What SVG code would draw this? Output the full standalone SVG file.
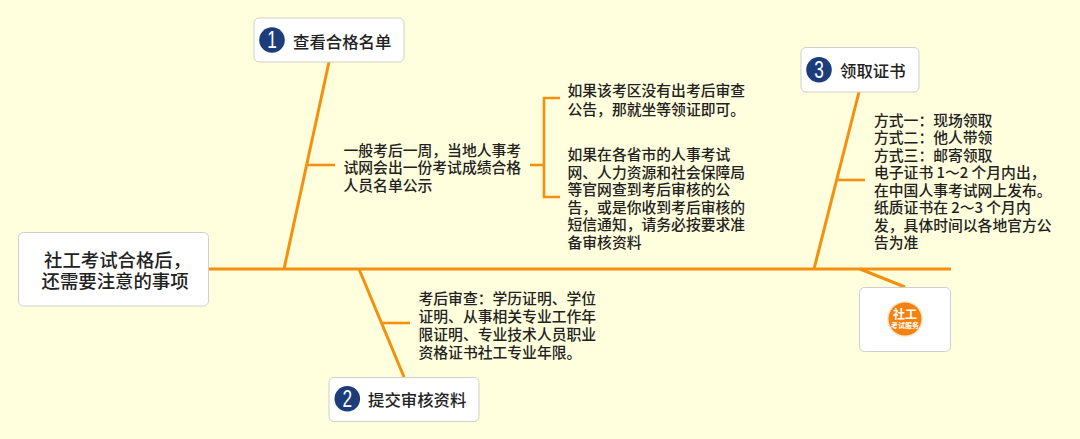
<svg xmlns="http://www.w3.org/2000/svg" width="1080" height="439" viewBox="0 0 1080 439">
<style>
text{font-family:"Noto Sans CJK SC","Noto Sans",sans-serif;fill:#222;font-weight:500}
.box{fill:#fff;stroke:#cfcfcf;stroke-width:1}
.b{font-size:14.8px}
.t{font-size:16.4px}
.r{font-size:18.4px}
.c{fill:#1c3d7a}
.n{fill:#fff;font-size:23px;font-family:"Liberation Sans",sans-serif;text-anchor:middle}
#connectors path{fill:none;stroke:#f5900f;stroke-linecap:butt}
.w3{stroke-width:3}
.w2{stroke-width:2.6}
</style>
<rect width="1080" height="439" fill="#fffedd"/>
<g id="connectors">
<path class="w3" d="M208 269H951"/>
<path class="w3" d="M329 62L284 269"/>
<path class="w3" d="M859 92L814 269"/>
<path class="w3" d="M359 269L404 377"/>
<path class="w3" d="M860 269L905 287"/>
<path class="w2" d="M306 165H335"/>
<path class="w2" d="M530 165H544"/>
<path class="w2" d="M560 98H544V197H560"/>
<path class="w2" d="M838 180H865"/>
<path class="w2" d="M382 323H410"/>
</g>
<g id="root">
<rect class="box" x="18.500" y="232.500" width="190" height="73.500" rx="5"/>
<text class="r" x="44" y="267">社工考试合格后，</text>
<text class="r" x="41.500" y="288">还需要注意的事项</text>
</g>
<g id="node1">
<rect class="box" x="254" y="18" width="150" height="44" rx="5"/>
<circle class="c" cx="272" cy="40" r="12.800"/>
<text class="n" transform="translate(272 48) scale(.75 1)">1</text>
<text class="t" x="293" y="47.700">查看合格名单</text>
</g>
<g id="node2">
<rect class="box" x="329" y="377.500" width="150" height="44" rx="5"/>
<circle class="c" cx="347.300" cy="398.700" r="12.800"/>
<text class="n" transform="translate(347.300 406.700) scale(.75 1)">2</text>
<text class="t" x="368" y="406">提交审核资料</text>
</g>
<g id="node3">
<rect class="box" x="801" y="47.500" width="118" height="44.500" rx="5"/>
<circle class="c" cx="819" cy="69.700" r="12.800"/>
<text class="n" transform="translate(819 77.700) scale(.75 1)">3</text>
<text class="t" x="840" y="76.700">领取证书</text>
</g>
<g id="logo">
<rect class="box" x="859.500" y="287.500" width="91" height="64" rx="5"/>
<circle cx="905" cy="319" r="18" fill="#fbe9cf"/>
<circle cx="905" cy="319" r="16.500" fill="#f5820f"/>
<text x="905" y="318.500" text-anchor="middle" style="fill:#fff;font-size:12px;font-weight:700">社工</text>
<text x="905" y="327.500" text-anchor="middle" style="fill:#fff;font-size:7px;font-weight:700">考试服务</text>
</g>
<g id="note1">
<text class="b" x="343.500" y="155.500">一般考后一周，当地人事考</text>
<text class="b" x="343.500" y="173">试网会出一份考试成绩合格</text>
<text class="b" x="343.500" y="190.500">人员名单公示</text>
</g>
<g id="note1a">
<text class="b" x="567.500" y="96">如果该考区没有出考后审查</text>
<text class="b" x="567.500" y="114.500">公告，那就坐等领证即可。</text>
</g>
<g id="note1b">
<text class="b" x="567.500" y="160">如果在各省市的人事考试</text>
<text class="b" x="567.500" y="177.600">网、人力资源和社会保障局</text>
<text class="b" x="567.500" y="195.200">等官网查到考后审核的公</text>
<text class="b" x="567.500" y="212.800">告，或是你收到考后审核的</text>
<text class="b" x="567.500" y="230.400">短信通知，请务必按要求准</text>
<text class="b" x="567.500" y="248">备审核资料</text>
</g>
<g id="note2">
<text class="b" x="418.500" y="303.500">考后审查：学历证明、学位</text>
<text class="b" x="418.500" y="321.500">证明、从事相关专业工作年</text>
<text class="b" x="418.500" y="339.500">限证明、专业技术人员职业</text>
<text class="b" x="418.500" y="358">资格证书社工专业年限。</text>
</g>
<g id="note3">
<text class="b" x="874" y="125.500">方式一：现场领取</text>
<text class="b" x="874" y="143">方式二：他人带领</text>
<text class="b" x="874" y="160.500">方式三：邮寄领取</text>
<text class="b" x="874" y="178">电子证书 1～2 个月内出，</text>
<text class="b" x="874" y="195.500">在中国人事考试网上发布。</text>
<text class="b" x="874" y="213">纸质证书在 2～3 个月内</text>
<text class="b" x="874" y="230.500">发，具体时间以各地官方公</text>
<text class="b" x="874" y="248">告为准</text>
</g>
</svg>
